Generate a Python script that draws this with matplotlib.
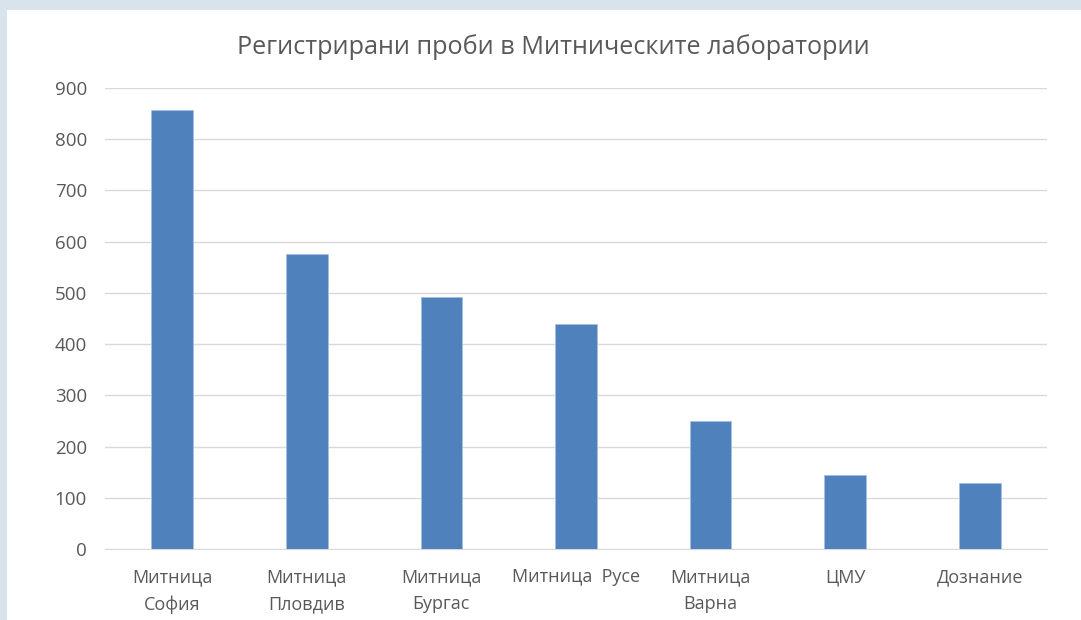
import matplotlib.pyplot as plt
from matplotlib.patches import Rectangle

plt.rcParams['font.family'] = ['Open Sans', 'DejaVu Sans']

# Данни
kategorii = ["Митница\nСофия", "Митница\nПловдив", "Митница\nБургас", "Митница  Русе",
             "Митница\nВарна", "ЦМУ", "Дознание"]
probi = [857, 576, 492, 439, 250, 145, 129]
y_ticks = [0, 100, 200, 300, 400, 500, 600, 700, 800, 900]

text_color = "#595959"

fig = plt.figure(figsize=(10.81, 6.2), dpi=100)
fig.patch.set_facecolor("#d9e3ec")

# бял панел на диаграмата
fig.patches.append(Rectangle((7 / 1081, 0), 1, 1 - 10 / 620, transform=fig.transFigure,
                             facecolor="white", edgecolor="none", zorder=-5))

ax = fig.add_axes([105 / 1081, 1 - 549 / 620, 942 / 1081, 461 / 620])
ax.set_zorder(2)
ax.set_facecolor("white")

ax.bar(range(len(probi)), probi, width=0.31, color="#4f81bd", edgecolor="#a7c0de",
       linewidth=0.6, zorder=3)

ax.set_xlim(-0.5, len(probi) - 0.5)
ax.set_ylim(0, 900)
ax.set_yticks(y_ticks)
ax.set_xticks(range(len(kategorii)))
ax.set_xticklabels(kategorii, fontsize=13, color=text_color, linespacing=1.6)
ax.tick_params(axis="y", labelsize=13.5, labelcolor=text_color, length=0, pad=13)
ax.tick_params(axis="x", length=0, pad=14)

ax.grid(axis="y", color="#d9d9d9", linewidth=1, zorder=0)
for s in ["top", "right", "left"]:
    ax.spines[s].set_visible(False)
ax.spines["bottom"].set_color("#d9d9d9")

fig.text(553 / 1081, 1 - 47 / 620, "Регистрирани проби в Митническите лаборатории",
         ha="center", va="center", fontsize=18.2, color=text_color, zorder=5)

fig.savefig("out.png", dpi=100, facecolor=fig.get_facecolor())
